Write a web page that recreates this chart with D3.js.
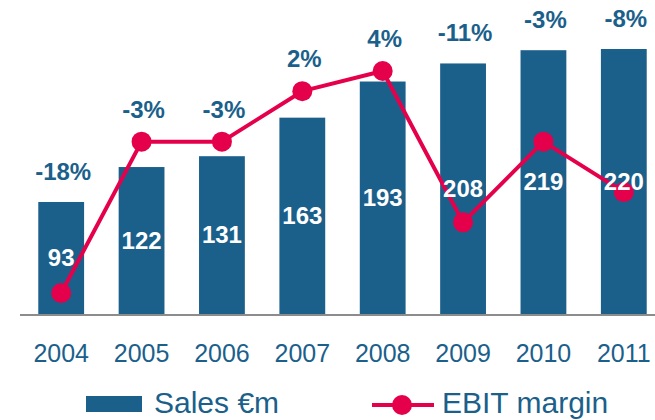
<!DOCTYPE html>
<html>
<head>
<meta charset="utf-8">
<script src="https://cdn.jsdelivr.net/npm/d3@7"></script>
<style>
  html, body { margin: 0; padding: 0; background: #fff; }
  svg { display: block; font-family: "Liberation Sans", Arial, sans-serif; }
</style>
</head>
<body>
<svg id="chart" width="655" height="420"></svg>
<script>
const years = ["2004", "2005", "2006", "2007", "2008", "2009", "2010", "2011"];
const sales = [93, 122, 131, 163, 193, 208, 219, 220];
const ebitMargin = [-18, -3, -3, 2, 4, -11, -3, -8];
const ebitLabels = ["-18%", "-3%", "-3%", "2%", "4%", "-11%", "-3%", "-8%"];
const legendLabels = ["Sales €m", "EBIT margin"];

const BLUE = "#1b5f8b";
const RED = "#e5004b";
const GRAY = "#8c8c8c";

const svg = d3.select("#chart");

const x = d3.scaleBand().domain(years).range([21, 664]).paddingInner(0.43).paddingOuter(0.215);
const y = d3.scaleLinear().domain([0, 220]).range([314, 49]);
const y2 = d3.scaleLinear().domain([-18, 4]).range([293, 71]);
const cx = d => x(d) + x.bandwidth() / 2;

// bars
svg.append("g").selectAll("rect").data(years).join("rect")
  .attr("x", d => x(d))
  .attr("width", x.bandwidth())
  .attr("y", (d, i) => y(sales[i]))
  .attr("height", (d, i) => y(0) - y(sales[i]))
  .attr("fill", BLUE);

// axis
const axis = svg.append("g").attr("transform", `translate(0,${y(0)})`)
  .call(d3.axisBottom(x).tickSize(0).tickPadding(0));
axis.select(".domain").remove();
axis.append("line").attr("x1", 20).attr("x2", 655).attr("y1", 1).attr("y2", 1)
  .attr("stroke", GRAY).attr("stroke-width", 2);
axis.selectAll(".tick text")
  .attr("dy", null).attr("y", 48)
  .attr("fill", BLUE).attr("font-size", 25)
  .attr("font-family", "Liberation Sans, Arial, sans-serif");

// EBIT line
const line = d3.line().x((d, i) => cx(years[i])).y(d => y2(d));
svg.append("path").datum(ebitMargin)
  .attr("d", line).attr("fill", "none")
  .attr("stroke", RED).attr("stroke-width", 4).attr("stroke-linejoin", "round");
svg.append("g").selectAll("circle").data(ebitMargin).join("circle")
  .attr("cx", (d, i) => cx(years[i]))
  .attr("cy", d => y2(d))
  .attr("r", 10)
  .attr("fill", RED);

// value labels inside bars
svg.append("g").selectAll("text").data(sales).join("text")
  .attr("x", (d, i) => cx(years[i]))
  .attr("y", d => (y(d) + y(0)) / 2 + 8)
  .attr("text-anchor", "middle")
  .attr("fill", "#fff").attr("font-weight", "bold").attr("font-size", 24)
  .text(d => d);

// margin labels above
svg.append("g").selectAll("text").data(ebitLabels).join("text")
  .attr("x", (d, i) => cx(years[i]) + 2)
  .attr("y", (d, i) => Math.min(y(sales[i]) - 22, y2(ebitMargin[i]) - 24))
  .attr("text-anchor", "middle")
  .attr("fill", BLUE).attr("font-weight", "bold").attr("font-size", 24)
  .text(d => d);

// legend
const lg = svg.append("g");
lg.append("rect").attr("x", 86).attr("y", 396).attr("width", 56).attr("height", 16).attr("fill", BLUE);
lg.append("text").attr("x", 154).attr("y", 413).attr("fill", BLUE).attr("font-size", 30).text(legendLabels[0]);
lg.append("line").attr("x1", 372).attr("x2", 434).attr("y1", 405).attr("y2", 405)
  .attr("stroke", RED).attr("stroke-width", 4);
lg.append("circle").attr("cx", 402).attr("cy", 405).attr("r", 10).attr("fill", RED);
lg.append("text").attr("x", 442).attr("y", 413).attr("fill", BLUE).attr("font-size", 30).text(legendLabels[1]);
</script>
</body>
</html>
